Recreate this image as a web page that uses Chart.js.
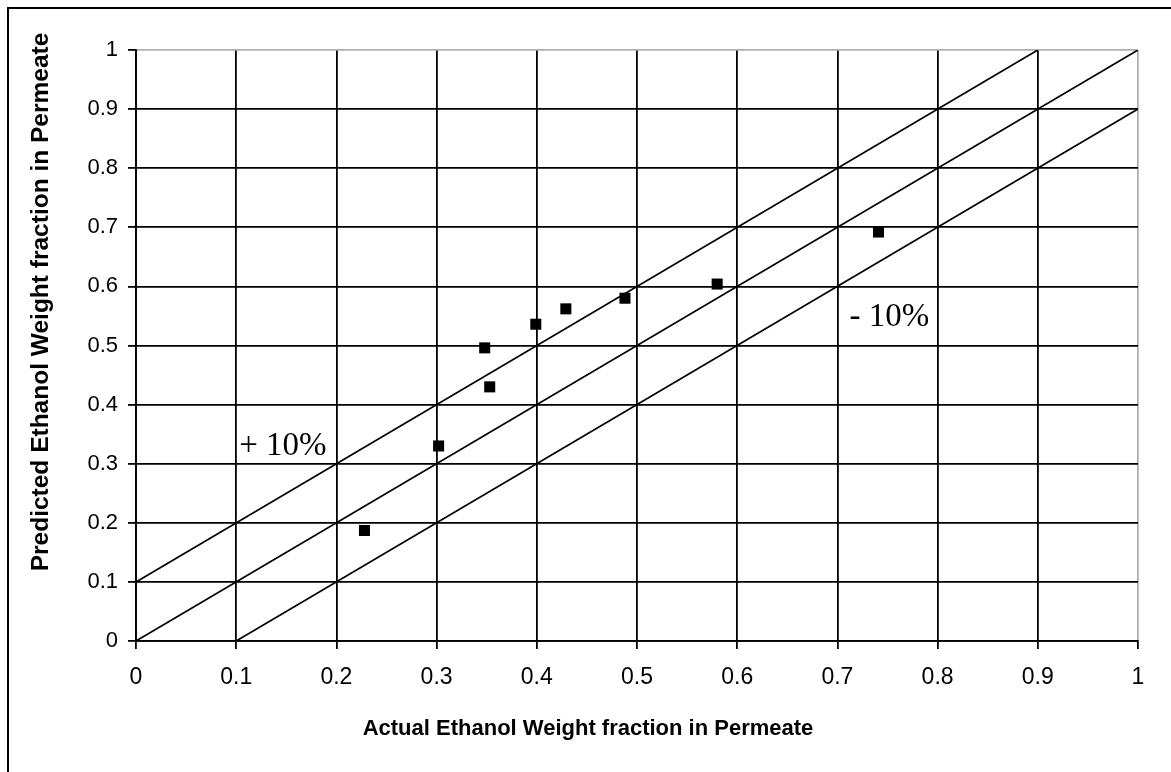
<!DOCTYPE html>
<html>
<head>
<meta charset="utf-8">
<script src="https://cdn.jsdelivr.net/npm/chart.js@4.4.0/dist/chart.umd.min.js"></script>
<style>
  html, body { margin: 0; padding: 0; background: #fff; }
  #wrap { position: relative; width: 1171px; height: 772px; }
  #frame { position: absolute; left: 7px; top: 7px; right: 0; bottom: 0;
           border-top: 2px solid #000; border-left: 2px solid #000; }
  canvas { position: absolute; left: 0; top: 0; }
</style>
</head>
<body>
<div id="wrap">
  <div id="frame"></div>
  <canvas id="parityChart" width="1171" height="772"></canvas>
</div>
<script>
// measured data (actual vs predicted ethanol weight fraction)
const actualValues = [0.228, 0.302, 0.348, 0.353, 0.399, 0.429, 0.488, 0.580, 0.741];
const predictedValues = [0.187, 0.330, 0.496, 0.430, 0.536, 0.562, 0.580, 0.604, 0.692];

// reference lines: +10%, parity, -10%
const plusLineX = [0, 0.9];
const plusLineY = [0.1, 1];
const parityLineX = [0, 1];
const parityLineY = [0, 1];
const minusLineX = [0.1, 1];
const minusLineY = [0, 0.9];

const tickLabels = ["0", "0.1", "0.2", "0.3", "0.4", "0.5", "0.6", "0.7", "0.8", "0.9", "1"];

const xTitle = "Actual Ethanol Weight fraction in Permeate";
const yTitle = "Predicted Ethanol Weight fraction in Permeate";

function toPoints(xs, ys) {
  return xs.map((x, i) => ({ x: x, y: ys[i] }));
}

function lineDataset(xs, ys) {
  return {
    data: toPoints(xs, ys),
    showLine: true,
    borderColor: "#000",
    borderWidth: 1.7,
    pointRadius: 0,
    fill: false,
  };
}

const textPlugin = {
  id: "textPlugin",
  afterDraw(chart) {
    const ctx = chart.ctx;
    const xs = chart.scales.x;
    const ys = chart.scales.y;
    ctx.save();
    ctx.fillStyle = "#000";

    // band labels
    ctx.font = "33px 'Liberation Serif', 'Times New Roman', serif";
    ctx.textAlign = "left";
    ctx.textBaseline = "middle";
    ctx.fillText("+ 10%", xs.getPixelForValue(0.103), ys.getPixelForValue(0.33));
    ctx.fillText("- 10%", xs.getPixelForValue(0.712), ys.getPixelForValue(0.548));

    // axis titles
    ctx.font = "bold 22px 'Liberation Sans', Arial, sans-serif";
    ctx.textAlign = "center";
    ctx.fillText(xTitle, 588, 729);

    ctx.translate(41, 302);
    ctx.rotate(-Math.PI / 2);
    ctx.font = "bold 24.5px 'Liberation Sans', Arial, sans-serif";
    ctx.fillText(yTitle, 0, 0);
    ctx.restore();
  },
};

const xTickFont = { family: "'Liberation Sans', Arial, sans-serif", size: 23 };
const yTickFont = { family: "'Liberation Sans', Arial, sans-serif", size: 22 };

const ctx = document.getElementById("parityChart").getContext("2d");
new Chart(ctx, {
  type: "scatter",
  data: {
    datasets: [
      lineDataset(plusLineX, plusLineY),
      lineDataset(parityLineX, parityLineY),
      lineDataset(minusLineX, minusLineY),
      {
        data: toPoints(actualValues, predictedValues),
        pointStyle: "rect",
        pointRadius: 7.8,
        pointBackgroundColor: "#000",
        pointBorderWidth: 0,
        showLine: false,
      },
    ],
  },
  options: {
    responsive: false,
    animation: false,
    layout: { padding: { top: 50, right: 33, left: 0, bottom: 0 } },
    plugins: {
      legend: { display: false },
      tooltip: { enabled: false },
    },
    scales: {
      x: {
        type: "linear",
        min: 0,
        max: 1,
        afterFit(scale) { scale.height = 131; },
        ticks: {
          stepSize: 0.1,
          padding: 15,
          color: "#000",
          font: xTickFont,
          maxRotation: 0,
          callback: (v, i) => tickLabels[i],
        },
        grid: {
          color: (c) => (c.tick && c.tick.value > 0.999 ? "#b0b0b0" : "#000"),
          lineWidth: 1.8,
          tickColor: "#000",
          tickLength: 8,
        },
        border: { color: "#000", width: 1.8 },
      },
      y: {
        type: "linear",
        min: 0,
        max: 1,
        afterFit(scale) { scale.width = 136; },
        ticks: {
          stepSize: 0.1,
          padding: 10,
          color: "#000",
          font: yTickFont,
          callback: (v, i) => tickLabels[i],
        },
        grid: {
          color: (c) => (c.tick && c.tick.value > 0.999 ? "#b0b0b0" : "#000"),
          lineWidth: 1.8,
          tickColor: "#000",
          tickLength: 8,
        },
        border: { color: "#000", width: 1.8 },
      },
    },
  },
  plugins: [textPlugin],
});
</script>
</body>
</html>
